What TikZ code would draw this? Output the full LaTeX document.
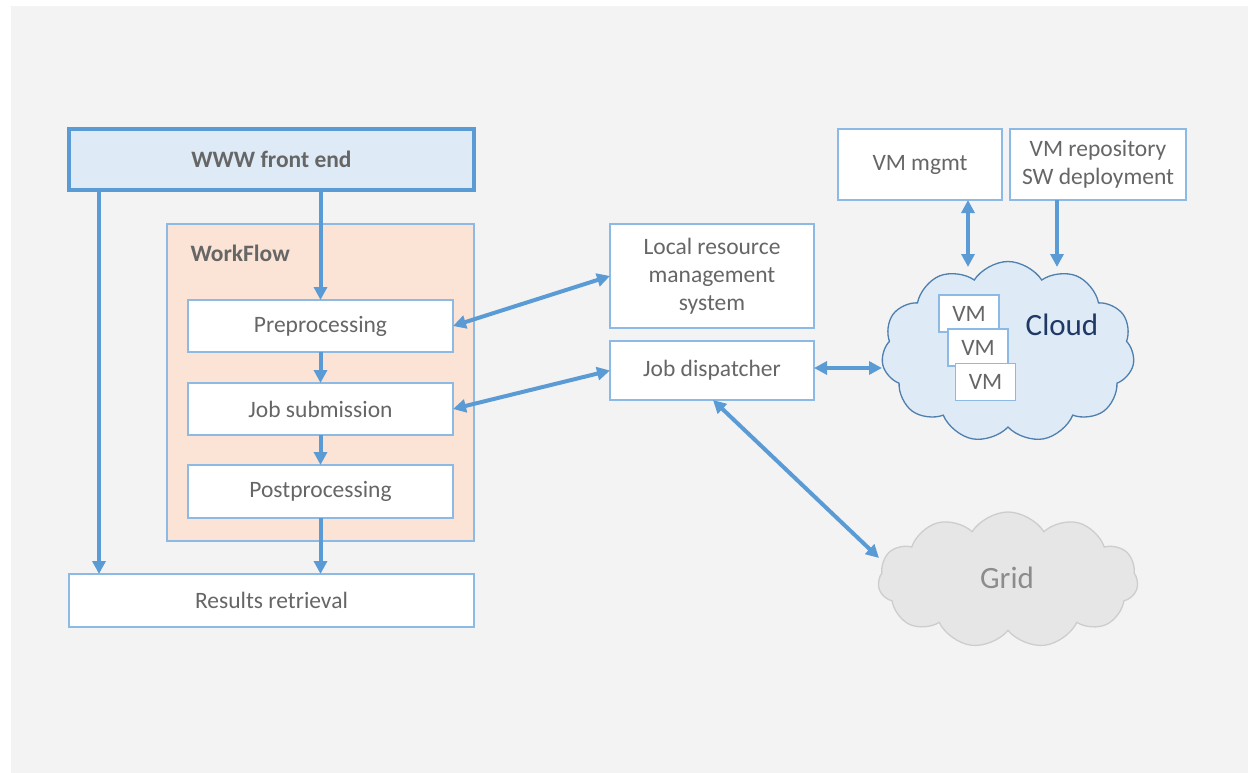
\documentclass[tikz,border=0pt]{standalone}
\usepackage{fontspec}
\setmainfont{Carlito}
\usetikzlibrary{arrows.meta,shapes.symbols,calc}
\definecolor{bg}{HTML}{F3F3F3}
\definecolor{arrblue}{HTML}{5B9BD5}
\definecolor{boxblue}{HTML}{8DBAE4}
\definecolor{txtgrey}{HTML}{666666}
\definecolor{wwwfill}{HTML}{DEEAF6}
\definecolor{wffill}{HTML}{FBE4D6}
\definecolor{cloudfill}{HTML}{DEEBF7}
\definecolor{cloudline}{HTML}{4F7FAE}
\definecolor{cloudtxt}{HTML}{1F3864}
\definecolor{gridfill}{HTML}{E6E6E6}
\definecolor{gridline}{HTML}{CDCDCD}
\definecolor{gridtxt}{HTML}{8C8C8C}
\tikzset{
  box/.style={draw=boxblue, line width=1.5pt, fill=white, text=txtgrey,
    font=\fontsize{23.5}{28}\selectfont, align=center, inner sep=0pt, outer sep=0pt},
  arr/.style={line width=4pt, draw=arrblue, -{Triangle[length=13pt,width=13pt]}},
  darr/.style={line width=4pt, draw=arrblue, {Triangle[length=13pt,width=13pt]}-{Triangle[length=13pt,width=13pt]}},
}
\begin{document}
\begin{tikzpicture}[x=1pt,y=-1pt]
\useasboundingbox (0,0) rectangle (1248,773);
\fill[white] (0,0) rectangle (1248,773);
\fill[bg] (11,6) rectangle (1248,773);

% left column
\node[box, draw=arrblue, line width=4pt, fill=wwwfill, minimum width=405pt, minimum height=61pt,
  font=\fontsize{23.5}{28}\selectfont\bfseries] (www) at (271.5,159.5) {WWW front end};
\node[box, fill=wffill, minimum width=307pt, minimum height=317pt] (wf) at (320.5,382.5) {};
\node[anchor=west, text=txtgrey, font=\fontsize{23.5}{28}\selectfont\bfseries] (wft) at (187,253) {WorkFlow};
\node[box, minimum width=265pt, minimum height=52pt] (pre) at (320.5,326) {Preprocessing};
\node[box, minimum width=265pt, minimum height=52pt] (js) at (320.5,409) {Job submission};
\node[box, minimum width=265pt, minimum height=53pt] (post) at (320.5,491.5) {Postprocessing};
\node[box, minimum width=405pt, minimum height=53pt] (res) at (271.5,600.5) {Results retrieval};

% middle
\node[box, minimum width=204pt, minimum height=104pt] (lrm) at (712,276) {Local resource\\management\\system};
\node[box, minimum width=204pt, minimum height=59pt] (jd) at (712,370.5) {Job dispatcher};

% right top
\node[box, minimum width=164pt, minimum height=71pt] (vmm) at (920,164.5) {VM mgmt};
\node[box, minimum width=176pt, minimum height=71pt] (vmr) at (1098,164.5) {VM repository\\SW deployment};

% clouds
\node[cloud, cloud puffs=11, cloud puff arc=115, aspect=1.45, draw=cloudline, line width=1.3pt,
  fill=cloudfill, minimum width=253pt, minimum height=181pt, inner sep=0pt] (cloud) at (1008,352) {};
\node[box, minimum width=60pt, minimum height=37pt] (vm1) at (969,313.5) {VM};
\node[box, minimum width=60pt, minimum height=37pt] (vm2) at (978,347.5) {VM};
\node[box, minimum width=60pt, minimum height=37pt] (vm3) at (985.5,382) {VM};
\node[text=cloudtxt, font=\fontsize{31}{36}\selectfont] (cloudt) at (1062,325) {Cloud};

\node[cloud, cloud puffs=11, cloud puff arc=115, aspect=1.9, draw=gridline, line width=1.3pt,
  fill=gridfill, minimum width=260pt, minimum height=136pt, inner sep=0pt] (grid) at (1008,580) {};
\node[text=gridtxt, font=\fontsize{31}{36}\selectfont] (gridt) at (1007,578) {Grid};

% connectors
\coordinate (wl) at ($(www.south)+(-172.5,0)$);
\draw[arr] (wl) -- (wl |- res.north);
\draw[arr] (www.south -| pre.north) -- (pre.north);
\draw[arr] (pre.south) -- (js.north);
\draw[arr] (js.south) -- (post.north);
\draw[arr] (post.south) -- (res.north -| post.south);
\draw[darr] (pre.east) -- (lrm.west);
\draw[darr] (js.east) -- (jd.west);
\coordinate (cw) at (882,368);
\draw[darr] (jd.east |- cw) -- (cw);
\coordinate (gw) at (879,558);
\draw[darr] ([xshift=1pt]jd.south) -- (gw);
\coordinate (vmmb) at ($(vmm.south)+(48,0)$);
\coordinate (ct1) at (968,267);
\draw[darr] (vmmb) -- (ct1);
\coordinate (vmrb) at ($(vmr.south)+(-41,0)$);
\coordinate (ct2) at (1057,267);
\draw[arr] (vmrb) -- (ct2);
\end{tikzpicture}
\end{document}
